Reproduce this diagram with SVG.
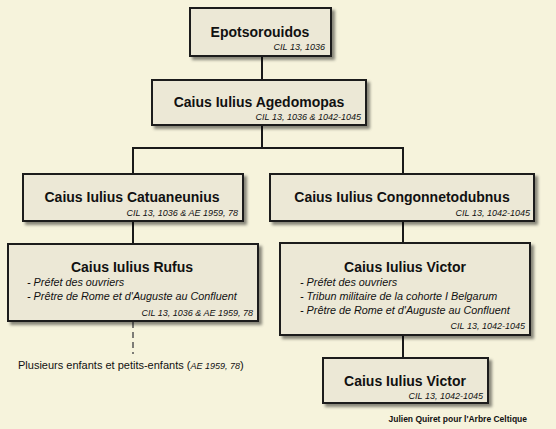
<svg xmlns="http://www.w3.org/2000/svg" width="556" height="429" viewBox="0 0 556 429">
<style>
.box{fill:#ece8d6;stroke:#1a1a1a;stroke-width:2}
.t{font-family:"Liberation Sans",Arial,sans-serif;font-weight:bold;font-size:14px;fill:#111;text-anchor:middle}
.r{font-family:"Liberation Sans",Arial,sans-serif;font-style:italic;font-size:9px;fill:#111;text-anchor:end}
.l{font-family:"Liberation Sans",Arial,sans-serif;font-style:italic;font-size:10.8px;fill:#111}
.c{stroke:#1a1a1a;stroke-width:2;fill:none}
</style>
<defs>
<filter id="sh" x="-10%" y="-10%" width="130%" height="140%">
<feDropShadow dx="3" dy="3" stdDeviation="1.5" flood-color="#000" flood-opacity="0.45"/>
</filter>
</defs>
<rect width="556" height="429" fill="#f6f3dc"/>
<g id="connectors">
<line class="c" x1="262" y1="56" x2="262" y2="80"/>
<line class="c" x1="262" y1="125" x2="262" y2="148"/>
<line class="c" x1="132" y1="148" x2="404" y2="148"/>
<line class="c" x1="133" y1="148" x2="133" y2="174"/>
<line class="c" x1="403" y1="148" x2="403" y2="174"/>
<line class="c" x1="133" y1="221" x2="133" y2="244"/>
<line class="c" x1="403" y1="221" x2="403" y2="243"/>
<line class="c" x1="403" y1="335" x2="403" y2="358"/>
<line x1="133" y1="322" x2="133" y2="354" stroke="#555" stroke-width="1.5" stroke-dasharray="6,4"/>
</g>
<g id="n1">
<rect class="box" x="190" y="8" width="141" height="48" filter="url(#sh)"/>
<text class="t" x="260" y="37">Epotsorouidos</text>
<text class="r" x="325" y="50">CIL 13, 1036</text>
</g>
<g id="n2">
<rect class="box" x="152" y="80" width="214" height="45" filter="url(#sh)"/>
<text class="t" x="259" y="107">Caius Iulius Agedomopas</text>
<text class="r" x="361" y="120">CIL 13, 1036 &amp; 1042-1045</text>
</g>
<g id="n3">
<rect class="box" x="23" y="174" width="220" height="47" filter="url(#sh)"/>
<text class="t" x="132" y="202">Caius Iulius Catuaneunius</text>
<text class="r" x="238" y="216">CIL 13, 1036 &amp; AE 1959, 78</text>
</g>
<g id="n4">
<rect class="box" x="270" y="174" width="264" height="47" filter="url(#sh)"/>
<text class="t" x="402" y="202">Caius Iulius Congonnetodubnus</text>
<text class="r" x="530" y="216">CIL 13, 1042-1045</text>
</g>
<g id="n5">
<rect class="box" x="8" y="244" width="250" height="77" filter="url(#sh)"/>
<text class="t" x="132" y="272">Caius Iulius Rufus</text>
<text class="l" x="27" y="286">- Préfet des ouvriers</text>
<text class="l" x="27" y="300">- Prêtre de Rome et d'Auguste au Confluent</text>
<text class="r" x="253" y="316">CIL 13, 1036 &amp; AE 1959, 78</text>
</g>
<g id="n6">
<rect class="box" x="280" y="243" width="250" height="92" filter="url(#sh)"/>
<text class="t" x="405" y="272">Caius Iulius Victor</text>
<text class="l" x="300" y="286">- Préfet des ouvriers</text>
<text class="l" x="300" y="300">- Tribun militaire de la cohorte I Belgarum</text>
<text class="l" x="300" y="314">- Prêtre de Rome et d'Auguste au Confluent</text>
<text class="r" x="525" y="329">CIL 13, 1042-1045</text>
</g>
<g id="n7">
<rect class="box" x="323" y="358" width="165" height="45" filter="url(#sh)"/>
<text class="t" x="405" y="386">Caius Iulius Victor</text>
<text class="r" x="483" y="399">CIL 13, 1042-1045</text>
</g>
<text x="18" y="369" font-family="Liberation Sans,Arial,sans-serif" font-size="11" fill="#111">Plusieurs enfants et petits-enfants (<tspan font-style="italic" font-size="9">AE 1959, 78</tspan>)</text>
<text x="527" y="422" font-family="Liberation Sans,Arial,sans-serif" font-weight="bold" font-size="8.5" fill="#111" text-anchor="end">Julien Quiret pour l'Arbre Celtique</text>
</svg>
